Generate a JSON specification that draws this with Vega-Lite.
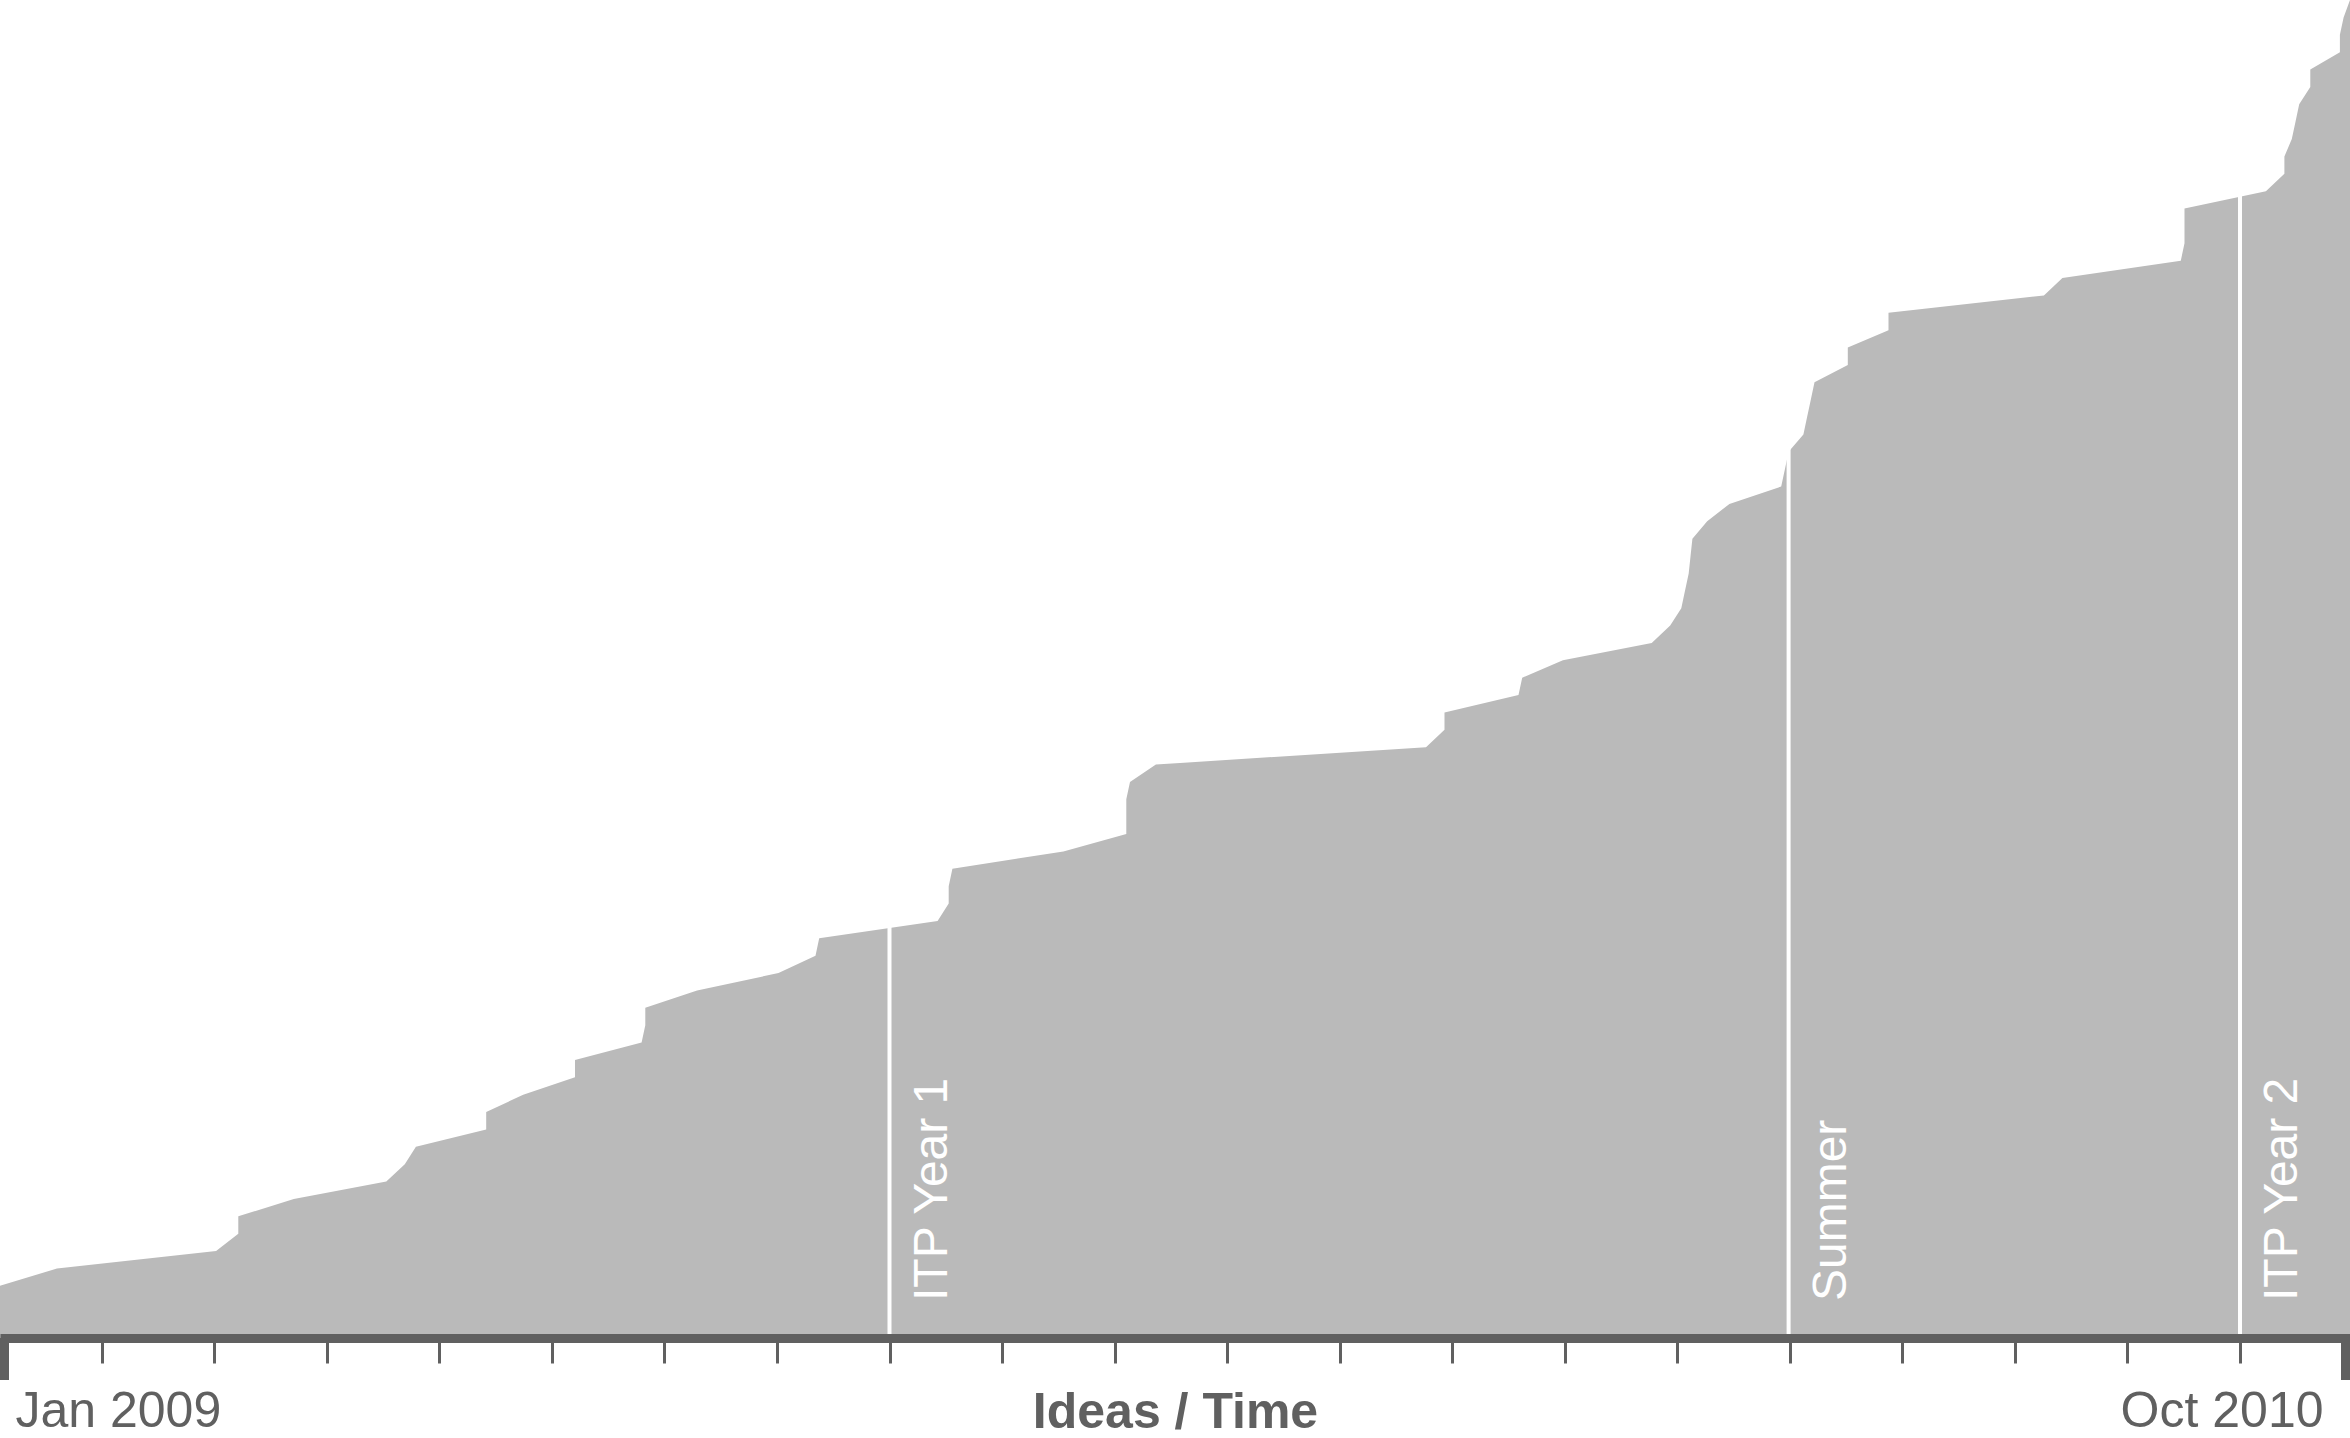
{
  "$schema": "https://vega.github.io/schema/vega-lite/v6.json",
  "width": 2350,
  "height": 1338,
  "autosize": {"type": "none"},
  "padding": {"left": 0, "top": 0, "right": 0, "bottom": 100},
  "background": "white",
  "config": {"view": {"stroke": null}},
  "datasets": {
    "ideas": [
      {"date": "2009-01-03T14:16:48Z", "ideas": 3},
      {"date": "2009-01-19", "ideas": 4},
      {"date": "2009-03-03", "ideas": 5},
      {"date": "2009-03-09", "ideas": 6},
      {"date": "2009-03-09", "ideas": 7},
      {"date": "2009-03-24", "ideas": 8},
      {"date": "2009-04-18", "ideas": 9},
      {"date": "2009-04-23", "ideas": 10},
      {"date": "2009-04-26", "ideas": 11},
      {"date": "2009-05-15", "ideas": 12},
      {"date": "2009-05-15", "ideas": 13},
      {"date": "2009-05-25", "ideas": 14},
      {"date": "2009-06-08", "ideas": 15},
      {"date": "2009-06-08", "ideas": 16},
      {"date": "2009-06-26", "ideas": 17},
      {"date": "2009-06-27", "ideas": 18},
      {"date": "2009-06-27", "ideas": 19},
      {"date": "2009-07-11", "ideas": 20},
      {"date": "2009-08-02", "ideas": 21},
      {"date": "2009-08-12", "ideas": 22},
      {"date": "2009-08-13", "ideas": 23},
      {"date": "2009-09-14", "ideas": 24},
      {"date": "2009-09-17", "ideas": 25},
      {"date": "2009-09-17", "ideas": 26},
      {"date": "2009-09-18", "ideas": 27},
      {"date": "2009-10-18", "ideas": 28},
      {"date": "2009-11-04", "ideas": 29},
      {"date": "2009-11-04", "ideas": 30},
      {"date": "2009-11-04", "ideas": 31},
      {"date": "2009-11-05", "ideas": 32},
      {"date": "2009-11-12", "ideas": 33},
      {"date": "2010-01-24", "ideas": 34},
      {"date": "2010-01-29", "ideas": 35},
      {"date": "2010-01-29", "ideas": 36},
      {"date": "2010-02-18", "ideas": 37},
      {"date": "2010-02-19", "ideas": 38},
      {"date": "2010-03-02", "ideas": 39},
      {"date": "2010-03-26", "ideas": 40},
      {"date": "2010-03-31", "ideas": 41},
      {"date": "2010-04-03", "ideas": 42},
      {"date": "2010-04-04", "ideas": 43},
      {"date": "2010-04-05", "ideas": 44},
      {"date": "2010-04-05T12:00:00Z", "ideas": 45},
      {"date": "2010-04-06", "ideas": 46},
      {"date": "2010-04-10", "ideas": 47},
      {"date": "2010-04-16", "ideas": 48},
      {"date": "2010-04-30", "ideas": 49},
      {"date": "2010-05-01", "ideas": 50},
      {"date": "2010-05-02", "ideas": 51},
      {"date": "2010-05-06", "ideas": 52},
      {"date": "2010-05-07", "ideas": 53},
      {"date": "2010-05-08", "ideas": 54},
      {"date": "2010-05-09", "ideas": 55},
      {"date": "2010-05-18", "ideas": 56},
      {"date": "2010-05-18", "ideas": 57},
      {"date": "2010-05-29", "ideas": 58},
      {"date": "2010-05-29", "ideas": 59},
      {"date": "2010-07-10", "ideas": 60},
      {"date": "2010-07-15", "ideas": 61},
      {"date": "2010-08-16", "ideas": 62},
      {"date": "2010-08-17", "ideas": 63},
      {"date": "2010-08-17", "ideas": 64},
      {"date": "2010-08-17", "ideas": 65},
      {"date": "2010-09-08", "ideas": 66},
      {"date": "2010-09-13", "ideas": 67},
      {"date": "2010-09-13", "ideas": 68},
      {"date": "2010-09-15", "ideas": 69},
      {"date": "2010-09-16", "ideas": 70},
      {"date": "2010-09-17", "ideas": 71},
      {"date": "2010-09-20", "ideas": 72},
      {"date": "2010-09-20", "ideas": 73},
      {"date": "2010-09-28", "ideas": 74},
      {"date": "2010-09-28", "ideas": 75},
      {"date": "2010-09-29", "ideas": 76},
      {"date": "2010-09-30T17:31:12Z", "ideas": 77}
    ],
    "events": [
      {"date": "2009-09-01", "label": "ITP Year 1"},
      {"date": "2010-05-02", "label": "Summer"},
      {"date": "2010-09-01", "label": "ITP Year 2"}
    ],
    "ends": [
      {"date": "2009-01-04T19:28:00Z", "label": "Jan 2009", "side": "left"},
      {"date": "2010-09-29T12:20:00Z", "label": "Oct 2010", "side": "right"}
    ]
  },
  "encoding": {
    "x": {
      "field": "date",
      "type": "temporal",
      "title": "Ideas / Time",
      "scale": {"domain": [1230992208000, 1285867872000]},
      "axis": {
        "zindex": 1,
        "values": [1233369331200, 1235997057600, 1238624784000, 1241252510400, 1243880236800, 1246507963200, 1249135689600, 1251763416000, 1254391142400, 1257018868800, 1259646595200, 1262274321600, 1264902048000, 1267529774400, 1270157500800, 1272785227200, 1275412953600, 1278040680000, 1280668406400, 1283296132800],
        "grid": false,
        "domainColor": "#606060",
        "domainWidth": 9,
        "tickColor": "#606060",
        "tickSize": 25,
        "tickWidth": 3,
        "labels": false,
        "titleFont": "Liberation Sans",
        "titleFontSize": 50,
        "titleFontWeight": "bold",
        "titleColor": "#606060",
        "titleBaseline": "alphabetic",
        "titleY": 89
      }
    }
  },
  "layer": [
    {
      "data": {"name": "ideas"},
      "mark": {"type": "area", "color": "#bababa"},
      "encoding": {
        "y": {
          "field": "ideas",
          "type": "quantitative",
          "stack": null,
          "scale": {"domain": [0, 77], "nice": false, "zero": true},
          "axis": null
        }
      }
    },
    {
      "data": {"name": "events"},
      "mark": {"type": "rule", "color": "white", "strokeWidth": 4},
      "encoding": {}
    },
    {
      "data": {"name": "events"},
      "mark": {
        "type": "text",
        "angle": 270,
        "align": "left",
        "baseline": "alphabetic",
        "dx": 37,
        "dy": 57.5,
        "font": "Liberation Sans",
        "fontSize": 48,
        "color": "white"
      },
      "encoding": {
        "y": {"datum": 0, "type": "quantitative", "axis": null},
        "text": {"field": "label"}
      }
    },
    {
      "data": {"name": "ends"},
      "mark": {"type": "rule", "color": "#606060", "strokeWidth": 9, "strokeCap": "butt"},
      "encoding": {
        "y": {"datum": 0, "type": "quantitative", "axis": null},
        "y2": {"datum": -2.417}
      }
    },
    {
      "data": {"name": "ends"},
      "transform": [{"filter": "datum.side == 'left'"}],
      "mark": {
        "type": "text",
        "align": "left",
        "baseline": "alphabetic",
        "dx": 11,
        "font": "Liberation Sans",
        "fontSize": 50,
        "color": "#606060"
      },
      "encoding": {
        "y": {"datum": -5.122, "type": "quantitative", "axis": null},
        "text": {"field": "label"}
      }
    },
    {
      "data": {"name": "ends"},
      "transform": [{"filter": "datum.side == 'right'"}],
      "mark": {
        "type": "text",
        "align": "right",
        "baseline": "alphabetic",
        "dx": -22,
        "font": "Liberation Sans",
        "fontSize": 50,
        "color": "#606060"
      },
      "encoding": {
        "y": {"datum": -5.122, "type": "quantitative", "axis": null},
        "text": {"field": "label"}
      }
    }
  ]
}
